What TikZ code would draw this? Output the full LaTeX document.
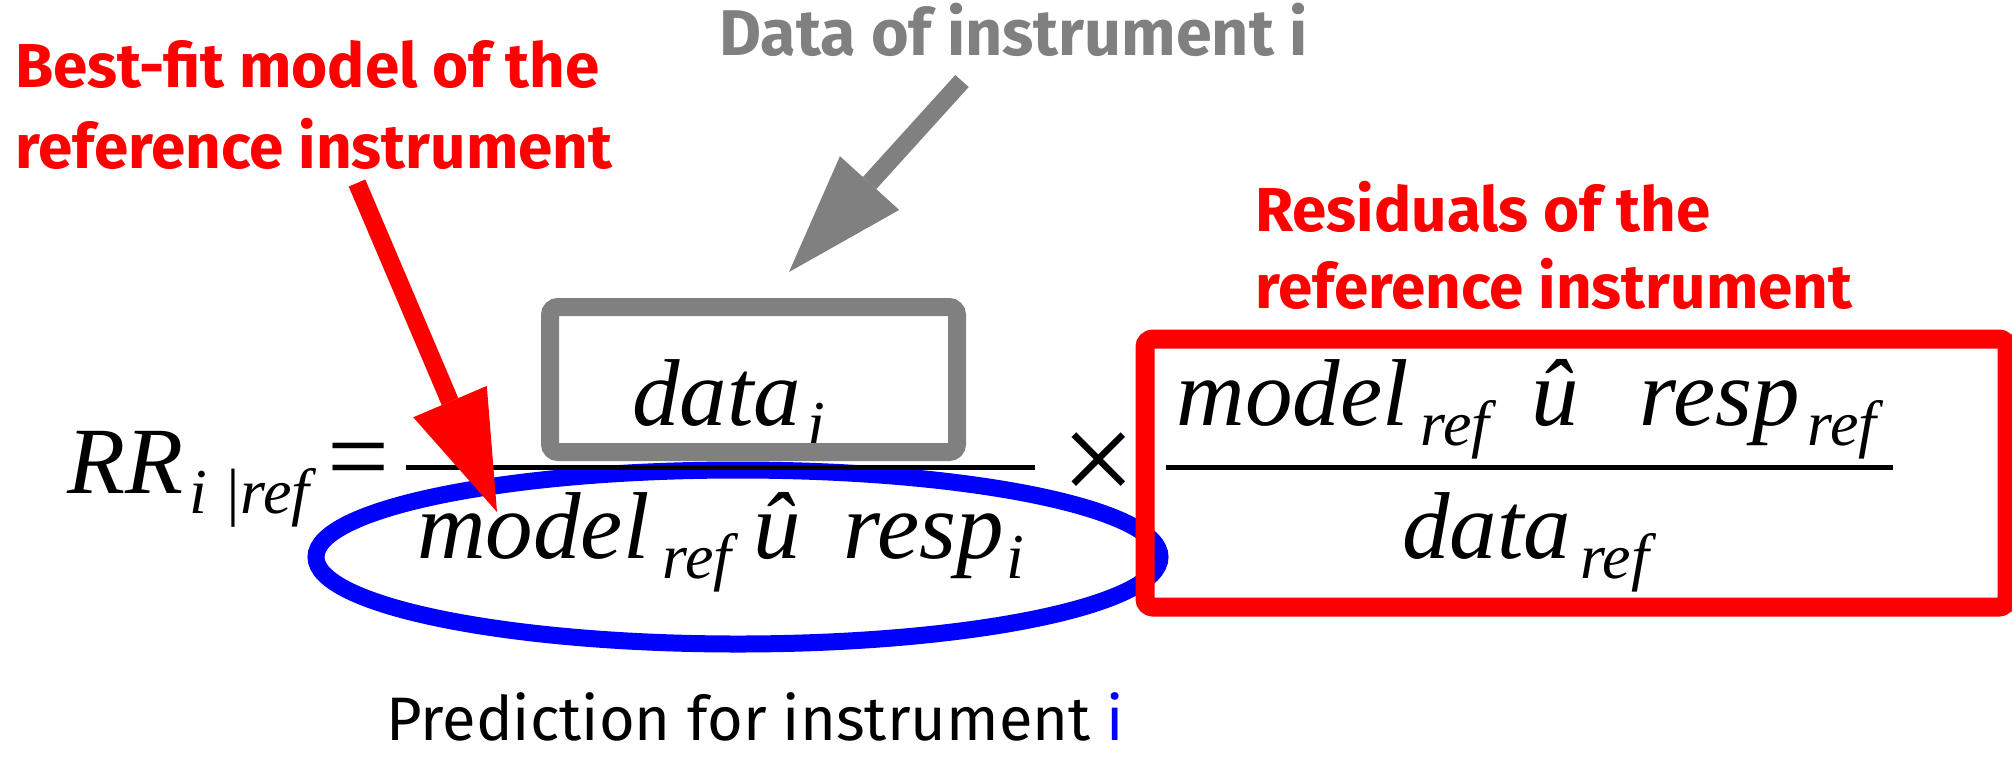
\documentclass[tikz,border=0pt]{standalone}
\usepackage{fontspec}
\setmainfont{Fira Sans}
\newfontfamily\tnr{Liberation Serif}
\usetikzlibrary{arrows.meta,shapes.geometric}
\newdimen\pxu \pxu=0.5pt
\newcommand\lowsub[1]{\raisebox{-10pt}{\fontsize{32}{32}\selectfont #1}}
\newcommand\hpx[1]{\hspace*{#1\pxu}}
\tikzset{
  mathtxt/.style={inner sep=0pt, anchor=base west, font=\tnr\itshape\fontsize{47.5}{50}\selectfont},
  lbl/.style={inner sep=0pt, anchor=base west, font=\bfseries\fontsize{31}{36}\selectfont},
  bigarrow/.style={line width=9pt, -{Triangle[length=60pt,width=40pt,line width=0pt]}},
  fracline/.style={line width=2.5pt, black},
}
\begin{document}
\begin{tikzpicture}[x=0.5pt,y=-0.5pt]
\useasboundingbox (0,0) rectangle (2012,757);

% labels
\node[lbl, red] (bestfitA) at (15,87) {Best-fit model of the};
\node[lbl, red] (bestfitB) at (15,168) {reference instrument};
\node[lbl, red] (residA) at (1255,231) {Residuals of the};
\node[lbl, red] (residB) at (1255,308) {reference instrument};
\node[lbl, gray, font=\bfseries\fontsize{32.3}{36}\selectfont] (datalbl) at (719,55) {Data of instrument i};
\node[lbl, font=\mdseries\fontsize{30.7}{34}\selectfont] (pred) at (386,740) {Prediction for instrument \textcolor{blue}{i}};

% formula
\node[mathtxt] (rr) at (67,493) {RR\hpx{6}\lowsub{i\hpx{16}|ref}\hpx{18}{\upshape\fontsize{55}{55}\selectfont=}};
\node[mathtxt] (numi) at (632,425) {data\hpx{6}\lowsub{i}};
\node[mathtxt] (deni) at (417,558) {model\hpx{13}\lowsub{ref}\hpx{22}û\hpx{43}resp\hpx{3}\lowsub{i}};
\node[mathtxt] (numref) at (1176,425) {model\hpx{12}\lowsub{ref}\hpx{42}û\hpx{61}resp\hpx{8}\lowsub{ref}};
\node[mathtxt] (denref) at (1402,558) {data\hpx{9}\lowsub{ref}};
\node[inner sep=0pt, anchor=center, font=\tnr\fontsize{66}{66}\selectfont] (times) at (1099,468) {×};

% shapes
\node[draw=gray, line width=9pt, rounded corners=4pt, minimum width=203.5pt, minimum height=72.5pt, inner sep=0pt] (greybox) at (753.5,379.5) {};
\node[ellipse, draw=blue, line width=8.5pt, minimum width=422pt, minimum height=87pt, inner sep=0pt] (blueell) at (738,557) {};
\node[draw=red, line width=9.5pt, rounded corners=4pt, minimum width=431pt, minimum height=134pt, inner sep=0pt] (redbox) at (1576,473) {};

% fraction lines
\coordinate (f1a) at (406,467);
\coordinate (f1b) at (1035,467);
\coordinate (f2a) at (1166,467);
\coordinate (f2b) at (1893,467);
\draw[fracline] (f1a) -- (f1b);
\draw[fracline] (f2a) -- (f2b);

% arrows
\coordinate (redTail) at (357,183);
\coordinate (redTip) at (497,512);
\coordinate (greyTail) at (962,81);
\coordinate (greyTip) at (789,272);
\draw[bigarrow, gray] (greyTail) -- (greyTip);
\draw[bigarrow, red] (redTail) -- (redTip);
\end{tikzpicture}
\end{document}
